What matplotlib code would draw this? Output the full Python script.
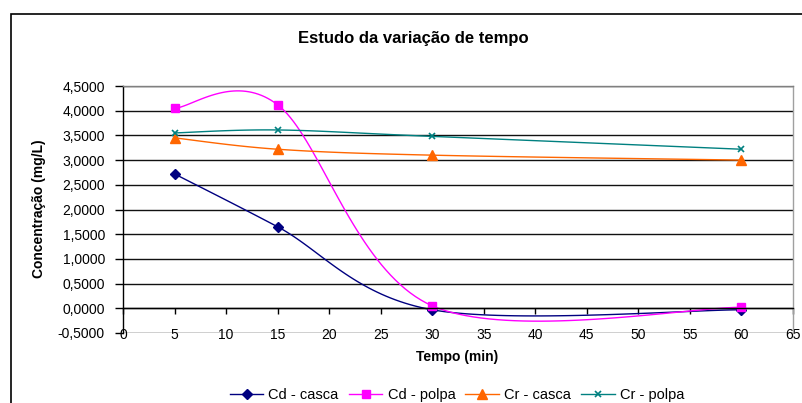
import numpy as np
import matplotlib
matplotlib.use("Agg")
import matplotlib.pyplot as plt
from matplotlib.patches import Rectangle
from matplotlib.ticker import FuncFormatter, MultipleLocator

plt.rcParams['font.family'] = ['Liberation Sans', 'DejaVu Sans']

# ---- data ----
tempo = [5, 15, 30, 60]
cd_casca = [2.72, 1.65, -0.03, -0.03]
cd_polpa = [4.05, 4.12, 0.05, 0.02]
cr_casca = [3.45, 3.22, 3.10, 3.00]
cr_polpa = [3.55, 3.61, 3.48, 3.22]
series_names = ["Cd - casca", "Cd - polpa", "Cr - casca", "Cr - polpa"]
title = "Estudo da variação de tempo"
xlabel = "Tempo (min)"
ylabel = "Concentração (mg/L)"


def smooth(xs, ys, n=40):
    """Excel-like smoothed line (Catmull-Rom as cubic Bezier)."""
    P = np.column_stack([xs, ys]).astype(float)
    m = len(P)
    out = []
    idx = []
    for i in range(m - 1):
        p0 = P[i - 1] if i > 0 else P[i]
        p1 = P[i]
        p2 = P[i + 1]
        p3 = P[i + 2] if i + 2 < m else P[i + 1]
        c1 = p1 + (p2 - p0) / 6.0
        c2 = p2 - (p3 - p1) / 6.0
        t = np.linspace(0, 1, n, endpoint=False)[:, None]
        seg = ((1 - t) ** 3) * p1 + 3 * ((1 - t) ** 2) * t * c1 + 3 * (1 - t) * t ** 2 * c2 + t ** 3 * p2
        idx.append(len(out))
        out.extend(seg.tolist())
    idx.append(len(out))
    out.append(P[-1].tolist())
    out = np.array(out)
    return out[:, 0], out[:, 1], idx


W, H = 802, 403
fig = plt.figure(figsize=(W / 100, H / 100), dpi=100)
ax = fig.add_axes([123 / W, 1 - 333 / H, (793 - 123) / W, (333 - 86) / H])

# chart-area border
fig.patches.append(Rectangle((11 / W, -0.1), 1.2, 1 - 14 / H + 0.1, transform=fig.transFigure,
                             fill=False, edgecolor='black', linewidth=1.2))

styles = [
    dict(color='#000080', marker='D', ms=5, mfc='#000080', mec='#000080'),
    dict(color='#FF00FF', marker='s', ms=6, mfc='#FF00FF', mec='#FF00FF'),
    dict(color='#FF6600', marker='^', ms=7, mfc='#FF6600', mec='#FF6600'),
    dict(color='#008080', marker='x', ms=5, mew=1.2),
]
all_series = [cd_casca, cd_polpa, cr_casca, cr_polpa]
for name, ys, st in zip(series_names, all_series, styles):
    sx, sy, idx = smooth(tempo, ys)
    ax.plot(sx, sy, lw=1.0, markevery=idx, label=name, clip_on=False, **st)

ax.set_xlim(0, 65)
ax.set_ylim(-0.5, 4.5)
ax.xaxis.set_major_locator(MultipleLocator(5))
ax.yaxis.set_major_locator(MultipleLocator(0.5))
ax.yaxis.set_major_formatter(FuncFormatter(lambda v, p: f"{v:.4f}".replace('.', ',')))
ax.grid(axis='y', color='#111111', lw=1.0)
ax.set_axisbelow(True)

ax.spines['bottom'].set_position(('data', 0))
ax.spines['bottom'].set_color('#000000')
ax.spines['left'].set_color('#000000')
ax.spines['top'].set_color('#808080')
ax.spines['right'].set_color('#a0a0a0')
for s in ax.spines.values():
    s.set_linewidth(1.0)

ax.tick_params(axis='x', direction='out', length=4, pad=10, labelsize=10, width=1)
ax.tick_params(axis='y', direction='out', length=6, pad=7, labelsize=10, width=1)

fig.text(413 / W, 1 - 38 / H, title, fontsize=12, fontweight='bold', ha='center', va='center')
fig.text(457.5 / W, 1 - 357 / H, xlabel, fontsize=10, fontweight='bold', ha='center', va='center')
fig.text(39 / W, 1 - 209 / H, ylabel, fontsize=10, fontweight='bold', ha='center', va='center', rotation=90)

fig.legend(loc='center', bbox_to_anchor=(457 / W, 1 - 395 / H), ncol=4, frameon=False,
           fontsize=10.5, handlelength=2.3, handletextpad=0.35, columnspacing=0.7,
           borderaxespad=0)

fig.savefig("out.png", dpi=100)
